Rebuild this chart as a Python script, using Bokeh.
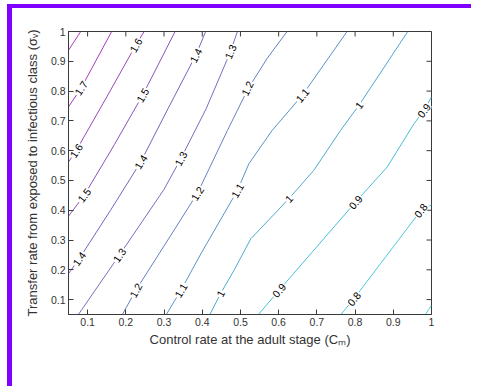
import math
from bokeh.plotting import figure
from bokeh.models import ColumnDataSource, FixedTicker, Range1d
from bokeh.core.properties import value
from bokeh.embed import file_html
from bokeh.resources import INLINE

# ---------------- data ----------------
levels = [0.7, 0.8, 0.9, 1.0, 1.1, 1.2, 1.3, 1.4, 1.5, 1.6, 1.7, 1.8]
level_text = ["0.7", "0.8", "0.9", "1", "1.1", "1.2", "1.3", "1.4", "1.5", "1.6", "1.7", "1.8"]

c07_x = [0.984, 1.0]
c07_y = [0.05, 0.081]
c08_x = [0.763, 0.797, 0.972, 1.0]
c08_y = [0.05, 0.103, 0.399, 0.418]
c09_x = [0.547, 0.601, 0.801, 0.884, 0.954, 0.980, 1.0]
c09_y = [0.05, 0.131, 0.427, 0.545, 0.690, 0.735, 0.780]
c10_x = [0.420, 0.448, 0.483, 0.527, 0.627, 0.692, 0.762, 0.810, 0.938]
c10_y = [0.05, 0.120, 0.198, 0.304, 0.439, 0.534, 0.668, 0.752, 1.0]
c11_x = [0.306, 0.344, 0.397, 0.492, 0.522, 0.583, 0.662, 0.779]
c11_y = [0.05, 0.131, 0.255, 0.466, 0.556, 0.668, 0.786, 1.0]
c12_x = [0.191, 0.226, 0.300, 0.387, 0.466, 0.520, 0.570, 0.622]
c12_y = [0.05, 0.131, 0.280, 0.456, 0.668, 0.808, 0.910, 1.0]
c13_x = [0.076, 0.183, 0.300, 0.344, 0.410, 0.474, 0.492]
c13_y = [0.05, 0.249, 0.470, 0.573, 0.740, 0.932, 1.0]
c14_x = [0.05, 0.078, 0.160, 0.239, 0.310, 0.383, 0.409]
c14_y = [0.187, 0.237, 0.400, 0.562, 0.740, 0.920, 1.0]
c15_x = [0.05, 0.091, 0.170, 0.244, 0.329]
c15_y = [0.380, 0.450, 0.620, 0.786, 1.0]
c16_x = [0.05, 0.070, 0.150, 0.226, 0.248]
c16_y = [0.562, 0.600, 0.780, 0.954, 1.0]
c17_x = [0.05, 0.083, 0.163]
c17_y = [0.747, 0.810, 1.0]
c18_x = [0.05, 0.082]
c18_y = [0.937, 1.0]

contour_xs = [c07_x, c08_x, c09_x, c10_x, c11_x, c12_x, c13_x, c14_x, c15_x, c16_x, c17_x, c18_x]
contour_ys = [c07_y, c08_y, c09_y, c10_y, c11_y, c12_y, c13_y, c14_y, c15_y, c16_y, c17_y, c18_y]

# contour labels: level index and position on the line
label_level = [10, 9, 9, 8, 8, 7, 7, 7, 6, 6, 6, 5, 5, 5, 4, 4, 4, 3, 3, 3, 2, 2, 2, 1, 1]
label_x = [0.083, 0.070, 0.226, 0.091, 0.244, 0.078, 0.239, 0.383, 0.183, 0.344, 0.474,
           0.226, 0.387, 0.518, 0.344, 0.492, 0.662, 0.448, 0.627, 0.810, 0.601, 0.801, 0.980,
           0.797, 0.972]
label_y = [0.810, 0.600, 0.954, 0.450, 0.786, 0.237, 0.562, 0.920, 0.249, 0.573, 0.932,
           0.131, 0.456, 0.809, 0.131, 0.466, 0.786, 0.120, 0.439, 0.752, 0.131, 0.427, 0.735,
           0.103, 0.399]

x_ticks = [0.1, 0.2, 0.3, 0.4, 0.5, 0.6, 0.7, 0.8, 0.9, 1.0]
x_tick_labels = ["0.1", "0.2", "0.3", "0.4", "0.5", "0.6", "0.7", "0.8", "0.9", "1"]
y_ticks = [0.1, 0.2, 0.3, 0.4, 0.5, 0.6, 0.7, 0.8, 0.9, 1.0]
y_tick_labels = ["0.1", "0.2", "0.3", "0.4", "0.5", "0.6", "0.7", "0.8", "0.9", "1"]

x_title = "Control rate at the adult stage (C\u2098)"
y_title = "Transfer rate from exposed to infectious class (\u03c3\u1d65)"

# ---------------- style ----------------
line_colors = ["#4fd3d9", "#4ccad6", "#48bfd3", "#4fa8d0", "#5a93c8", "#6780c4",
               "#7270c0", "#7d60bd", "#8a52bb", "#9a48bb", "#a83cbc", "#b535bf"]
FONT = "Liberation Sans"
AXC = "#3a3a3a"
XMIN, XMAX, YMIN, YMAX = 0.05, 1.0, 0.05, 1.0
FW, FH = 363, 283
BL, BT, BR, BB = 56, 23, 40, 72
PX_X = FW / (XMAX - XMIN)
PX_Y = FH / (YMAX - YMIN)
TICK = 5

p = figure(frame_width=FW, frame_height=FH, output_backend="svg", toolbar_location=None,
           x_range=Range1d(XMIN, XMAX), y_range=Range1d(YMIN, YMAX),
           min_border_left=BL, min_border_top=BT, min_border_right=BR, min_border_bottom=BB)
p.styles = {"margin-top": "4px", "margin-left": "7px",
            "border-top": "4px solid #8000ff", "border-left": "5px solid #8000ff"}
p.grid.visible = False
p.outline_line_color = AXC
p.background_fill_color = "white"
p.border_fill_color = "white"

p.xaxis.ticker = FixedTicker(ticks=x_ticks)
p.xaxis.major_label_overrides = {t: s for t, s in zip(x_ticks, x_tick_labels)}
p.yaxis.ticker = FixedTicker(ticks=y_ticks)
p.yaxis.major_label_overrides = {t: s for t, s in zip(y_ticks, y_tick_labels)}
for ax in [p.xaxis[0], p.yaxis[0]]:
    ax.major_tick_in = TICK
    ax.major_tick_out = 0
    ax.minor_tick_line_color = None
    ax.axis_line_color = AXC
    ax.major_tick_line_color = AXC
    ax.major_label_text_font = FONT
    ax.major_label_text_font_size = "10.5px"
    ax.major_label_text_color = "#333333"
    ax.major_label_standoff = 3
    ax.axis_label_text_font = FONT
    ax.axis_label_text_font_size = "13px"
    ax.axis_label_text_font_style = "normal"
    ax.axis_label_text_color = "#333333"
p.xaxis.axis_label = x_title
p.yaxis.axis_label = y_title
p.xaxis.axis_label_standoff = 3
p.yaxis.axis_label_standoff = 8

# inward ticks on the top and right edges of the box (mirroring the bottom/left ticks)
top_y1 = [YMAX - TICK / PX_Y] * len(x_ticks)
right_x1 = [XMAX - TICK / PX_X] * len(y_ticks)
p.segment(x0=x_ticks, y0=[YMAX] * len(x_ticks), x1=x_ticks, y1=top_y1, line_color=AXC, line_width=1)
p.segment(x0=[XMAX] * len(y_ticks), y0=y_ticks, x1=right_x1, y1=y_ticks, line_color=AXC, line_width=1)

# contour lines
p.multi_line(xs="xs", ys="ys", line_color="color", line_width=1,
             source=ColumnDataSource(dict(xs=contour_xs, ys=contour_ys, color=line_colors)))


def seg_angle(xs, ys, x0):
    i = 0
    for i in range(len(xs) - 1):
        if xs[i] <= x0 <= xs[i + 1]:
            break
    dx = (xs[i + 1] - xs[i]) * PX_X
    dy = (ys[i + 1] - ys[i]) * PX_Y
    return math.atan2(dy, dx)


angles = [seg_angle(contour_xs[k], contour_ys[k], x0) for k, x0 in zip(label_level, label_x)]
texts = [level_text[k] for k in label_level]
p.text(x="x", y="y", text="t", angle="a",
       source=ColumnDataSource(dict(x=label_x, y=label_y, t=texts, a=angles)),
       text_font=value(FONT), text_font_size="10.5px", text_color="black",
       text_align="center", text_baseline="middle",
       background_fill_color="white", padding=1)

open("out.html", "w").write(file_html(p, INLINE))
